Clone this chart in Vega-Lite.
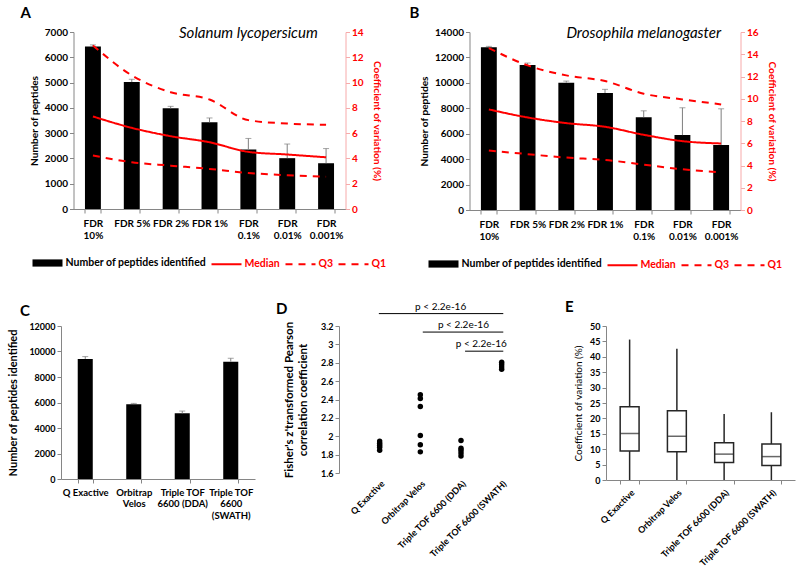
{
  "$schema": "https://vega.github.io/schema/vega-lite/v6.json",
  "padding": {"left": 7, "top": 6, "right": 5, "bottom": 5},
  "config": {
    "font": "Lato",
    "view": {"stroke": null},
    "axis": {"grid": false, "domainColor": "#868686", "tickColor": "#868686", "labelColor": "black", "titleColor": "black", "labelFontWeight": "bold", "titleFontWeight": "bold", "labelFontSize": 10, "titleFontSize": 10.2, "tickSize": 4, "labelOverlap": false},
    "title": {"fontSize": 15, "fontWeight": "bold", "anchor": "start", "color": "black", "frame": "group"},
    "legend": {"layout": {"bottom": {"anchor": "middle", "margin": 4}}}
  },
  "datasets": {
    "a_bars": [
      {"fdr": "FDR 10%", "peptides": 6430, "err": 6490},
      {"fdr": "FDR 5%", "peptides": 5020, "err": 5130},
      {"fdr": "FDR 2%", "peptides": 3980, "err": 4060},
      {"fdr": "FDR 1%", "peptides": 3430, "err": 3600},
      {"fdr": "FDR 0.1%", "peptides": 2350, "err": 2790},
      {"fdr": "FDR 0.01%", "peptides": 2010, "err": 2570},
      {"fdr": "FDR 0.001%", "peptides": 1810, "err": 2390}
    ],
    "a_cv": [
      {"fdr": "FDR 10%", "series": "Median", "cv": 7.32},
      {"fdr": "FDR 5%", "series": "Median", "cv": 6.42},
      {"fdr": "FDR 2%", "series": "Median", "cv": 5.76},
      {"fdr": "FDR 1%", "series": "Median", "cv": 5.28},
      {"fdr": "FDR 0.1%", "series": "Median", "cv": 4.52},
      {"fdr": "FDR 0.01%", "series": "Median", "cv": 4.31},
      {"fdr": "FDR 0.001%", "series": "Median", "cv": 4.09},
      {"fdr": "FDR 10%", "series": "Q3", "cv": 12.94},
      {"fdr": "FDR 5%", "series": "Q3", "cv": 10.57},
      {"fdr": "FDR 2%", "series": "Q3", "cv": 9.24},
      {"fdr": "FDR 1%", "series": "Q3", "cv": 8.66},
      {"fdr": "FDR 0.1%", "series": "Q3", "cv": 7.03},
      {"fdr": "FDR 0.01%", "series": "Q3", "cv": 6.76},
      {"fdr": "FDR 0.001%", "series": "Q3", "cv": 6.66},
      {"fdr": "FDR 10%", "series": "Q1", "cv": 4.23},
      {"fdr": "FDR 5%", "series": "Q1", "cv": 3.70},
      {"fdr": "FDR 2%", "series": "Q1", "cv": 3.43},
      {"fdr": "FDR 1%", "series": "Q1", "cv": 3.17},
      {"fdr": "FDR 0.1%", "series": "Q1", "cv": 2.85},
      {"fdr": "FDR 0.01%", "series": "Q1", "cv": 2.67},
      {"fdr": "FDR 0.001%", "series": "Q1", "cv": 2.56}
    ],
    "b_bars": [
      {"fdr": "FDR 10%", "peptides": 12800, "err": 12870},
      {"fdr": "FDR 5%", "peptides": 11400, "err": 11560},
      {"fdr": "FDR 2%", "peptides": 10010, "err": 10140},
      {"fdr": "FDR 1%", "peptides": 9200, "err": 9490},
      {"fdr": "FDR 0.1%", "peptides": 7300, "err": 7800},
      {"fdr": "FDR 0.01%", "peptides": 5890, "err": 8040},
      {"fdr": "FDR 0.001%", "peptides": 5120, "err": 7960}
    ],
    "b_cv": [
      {"fdr": "FDR 10%", "series": "Median", "cv": 9.04},
      {"fdr": "FDR 5%", "series": "Median", "cv": 8.32},
      {"fdr": "FDR 2%", "series": "Median", "cv": 7.81},
      {"fdr": "FDR 1%", "series": "Median", "cv": 7.48},
      {"fdr": "FDR 0.1%", "series": "Median", "cv": 6.76},
      {"fdr": "FDR 0.01%", "series": "Median", "cv": 6.19},
      {"fdr": "FDR 0.001%", "series": "Median", "cv": 5.98},
      {"fdr": "FDR 10%", "series": "Q3", "cv": 14.56},
      {"fdr": "FDR 5%", "series": "Q3", "cv": 13.0},
      {"fdr": "FDR 2%", "series": "Q3", "cv": 12.1},
      {"fdr": "FDR 1%", "series": "Q3", "cv": 11.59},
      {"fdr": "FDR 0.1%", "series": "Q3", "cv": 10.45},
      {"fdr": "FDR 0.01%", "series": "Q3", "cv": 9.94},
      {"fdr": "FDR 0.001%", "series": "Q3", "cv": 9.49},
      {"fdr": "FDR 10%", "series": "Q1", "cv": 5.35},
      {"fdr": "FDR 5%", "series": "Q1", "cv": 5.02},
      {"fdr": "FDR 2%", "series": "Q1", "cv": 4.71},
      {"fdr": "FDR 1%", "series": "Q1", "cv": 4.50},
      {"fdr": "FDR 0.1%", "series": "Q1", "cv": 4.08},
      {"fdr": "FDR 0.01%", "series": "Q1", "cv": 3.66},
      {"fdr": "FDR 0.001%", "series": "Q1", "cv": 3.39}
    ],
    "c_bars": [
      {"inst": "Q Exactive", "peptides": 9420, "err": 9600},
      {"inst": "Orbitrap Velos", "peptides": 5870, "err": 5930},
      {"inst": "Triple TOF 6600 (DDA)", "peptides": 5150, "err": 5330},
      {"inst": "Triple TOF 6600 (SWATH)", "peptides": 9200, "err": 9470}
    ],
    "d_pts": [
      {"pos": 1, "inst": "Q Exactive", "z": 1.947},
      {"pos": 1, "inst": "Q Exactive", "z": 1.925},
      {"pos": 1, "inst": "Q Exactive", "z": 1.903},
      {"pos": 1, "inst": "Q Exactive", "z": 1.881},
      {"pos": 1, "inst": "Q Exactive", "z": 1.848},
      {"pos": 2, "inst": "Orbitrap Velos", "z": 2.451},
      {"pos": 2, "inst": "Orbitrap Velos", "z": 2.411},
      {"pos": 2, "inst": "Orbitrap Velos", "z": 2.323},
      {"pos": 2, "inst": "Orbitrap Velos", "z": 2.009},
      {"pos": 2, "inst": "Orbitrap Velos", "z": 1.907},
      {"pos": 2, "inst": "Orbitrap Velos", "z": 1.830},
      {"pos": 3, "inst": "Triple TOF 6600 (DDA)", "z": 1.954},
      {"pos": 3, "inst": "Triple TOF 6600 (DDA)", "z": 1.870},
      {"pos": 3, "inst": "Triple TOF 6600 (DDA)", "z": 1.848},
      {"pos": 3, "inst": "Triple TOF 6600 (DDA)", "z": 1.819},
      {"pos": 3, "inst": "Triple TOF 6600 (DDA)", "z": 1.786},
      {"pos": 4, "inst": "Triple TOF 6600 (SWATH)", "z": 2.805},
      {"pos": 4, "inst": "Triple TOF 6600 (SWATH)", "z": 2.780},
      {"pos": 4, "inst": "Triple TOF 6600 (SWATH)", "z": 2.754},
      {"pos": 4, "inst": "Triple TOF 6600 (SWATH)", "z": 2.728}
    ],
    "d_brackets": [
      {"from": 0.98, "to": 4.04, "mid": 2.5, "level": 3.335, "label": "p < 2.2e-16"},
      {"from": 2.06, "to": 4.04, "mid": 3.06, "level": 3.134, "label": "p < 2.2e-16"},
      {"from": 3.1, "to": 4.04, "mid": 3.5, "level": 2.926, "label": "p < 2.2e-16"}
    ],
    "e_box": [
      {"inst": "Q Exactive", "min": 0, "q1": 9.4, "median": 15.1, "q3": 23.8, "max": 45.6},
      {"inst": "Orbitrap Velos", "min": 0, "q1": 9.2, "median": 14.2, "q3": 22.5, "max": 42.6},
      {"inst": "Triple TOF 6600 (DDA)", "min": 0, "q1": 5.7, "median": 8.4, "q3": 12.1, "max": 21.4},
      {"inst": "Triple TOF 6600 (SWATH)", "min": 0, "q1": 4.7, "median": 7.6, "q3": 11.7, "max": 22.0}
    ]
  },
  "spacing": 29,
  "center": true,
  "resolve": {"scale": {"color": "independent", "strokeDash": "independent"}, "legend": {"color": "independent", "strokeDash": "independent"}},
  "vconcat": [
    {
      "resolve": {"scale": {"color": "independent", "strokeDash": "independent"}, "legend": {"color": "independent", "strokeDash": "independent"}},
      "hconcat": [
        {
          "width": 272, "height": 177,
          "title": {"text": "A", "dx": -53, "offset": 5},
          "layer": [
            {
              "data": {"name": "a_bars"},
              "layer": [
                {
                  "mark": {"type": "bar"},
                  "encoding": {
                    "x": {"field": "fdr", "type": "nominal", "sort": ["FDR 10%","FDR 5%","FDR 2%","FDR 1%","FDR 0.1%","FDR 0.01%","FDR 0.001%"], "scale": {"paddingInner": 0.59, "paddingOuter": 0.295},
                      "axis": {"title": null, "labelAngle": 0, "tickBand": "extent", "labelPadding": 5, "labelOverlap": false, "labelExpr": "length(datum.label) > 6 ? split(datum.label, ' ') : datum.label"}},
                    "y": {"field": "peptides", "type": "quantitative", "scale": {"domain": [0, 7000]},
                      "axis": {"title": "Number of peptides", "values": [0,1000,2000,3000,4000,5000,6000,7000], "tickCount": 50, "format": "d", "labelOverlap": false, "titlePadding": 5}},
                    "color": {"datum": "Number of peptides identified", "type": "nominal", "scale": {"range": ["black"]},
                      "legend": {"orient": "bottom", "title": null, "symbolType": "M-1,-0.24H1V0.24H-1Z", "symbolSize": 900, "symbolStrokeWidth": 0, "labelFontSize": 10.5, "labelFontWeight": "bold", "labelLimit": 300, "labelOffset": 3, "offset": 8}}
                  }
                },
                {
                  "mark": {"type": "rule", "color": "#7f7f7f"},
                  "encoding": {
                    "x": {"field": "fdr", "type": "nominal", "sort": ["FDR 10%","FDR 5%","FDR 2%","FDR 1%","FDR 0.1%","FDR 0.01%","FDR 0.001%"]},
                    "y": {"field": "peptides", "type": "quantitative"},
                    "y2": {"field": "err"}
                  }
                },
                {
                  "mark": {"type": "tick", "color": "#7f7f7f", "size": 6, "thickness": 1, "orient": "horizontal"},
                  "encoding": {
                    "x": {"field": "fdr", "type": "nominal", "sort": ["FDR 10%","FDR 5%","FDR 2%","FDR 1%","FDR 0.1%","FDR 0.01%","FDR 0.001%"]},
                    "y": {"field": "err", "type": "quantitative"}
                  }
                },
                {
                  "data": {"values": [{}]},
                  "mark": {"type": "text", "fontStyle": "italic", "fontSize": 15, "align": "center", "baseline": "middle"},
                  "encoding": {
                    "x": {"datum": "FDR 0.1%", "type": "nominal"},
                    "y": {"datum": 6950, "type": "quantitative"},
                    "text": {"value": "Solanum lycopersicum"}
                  }
                }
              ]
            },
            {
              "data": {"name": "a_cv"},
              "mark": {"type": "line", "interpolate": "monotone", "strokeWidth": 2, "color": "#ff0000"},
              "encoding": {
                "x": {"field": "fdr", "type": "nominal", "sort": ["FDR 10%","FDR 5%","FDR 2%","FDR 1%","FDR 0.1%","FDR 0.01%","FDR 0.001%"]},
                "y": {"field": "cv", "type": "quantitative", "scale": {"domain": [0, 14]},
                  "axis": {"orient": "right", "title": "Coefficient of variation (%)", "values": [0,2,4,6,8,10,12,14], "tickCount": 50, "format": "d", "labelOverlap": false, "labelColor": "#ff0000", "titleColor": "#ff0000", "domainColor": "#f7aaaa", "tickColor": "#f7aaaa", "titlePadding": 8}},
                "strokeDash": {"field": "series", "type": "nominal", "scale": {"domain": ["Median", "Q3", "Q1"], "range": [[1, 0], [7, 6], [7, 6]]},
                  "legend": {"orient": "bottom", "direction": "horizontal", "title": null, "symbolType": "stroke", "symbolSize": 900, "symbolStrokeColor": "#ff0000", "symbolStrokeWidth": 2, "labelColor": "#ff0000", "labelFontSize": 10.5, "labelFontWeight": "bold", "labelOffset": 2, "columnPadding": 1, "offset": 8}}
              }
            }
          ],
          "resolve": {"scale": {"y": "independent"}}
        },
        {
          "width": 271, "height": 178,
          "title": {"text": "B", "dx": -60, "offset": 5},
          "layer": [
            {
              "data": {"name": "b_bars"},
              "layer": [
                {
                  "mark": {"type": "bar"},
                  "encoding": {
                    "x": {"field": "fdr", "type": "nominal", "sort": ["FDR 10%","FDR 5%","FDR 2%","FDR 1%","FDR 0.1%","FDR 0.01%","FDR 0.001%"], "scale": {"paddingInner": 0.59, "paddingOuter": 0.295},
                      "axis": {"title": null, "labelAngle": 0, "tickBand": "extent", "labelPadding": 5, "labelOverlap": false, "labelExpr": "length(datum.label) > 6 ? split(datum.label, ' ') : datum.label"}},
                    "y": {"field": "peptides", "type": "quantitative", "scale": {"domain": [0, 14000]},
                      "axis": {"title": "Number of peptides", "values": [0,2000,4000,6000,8000,10000,12000,14000], "tickCount": 50, "format": "d", "labelOverlap": false, "titlePadding": 5}},
                    "color": {"datum": "Number of peptides identified", "type": "nominal", "scale": {"range": ["black"]},
                      "legend": {"orient": "bottom", "title": null, "symbolType": "M-1,-0.24H1V0.24H-1Z", "symbolSize": 900, "symbolStrokeWidth": 0, "labelFontSize": 10.5, "labelFontWeight": "bold", "labelLimit": 300, "labelOffset": 3, "offset": 8}}
                  }
                },
                {
                  "mark": {"type": "rule", "color": "#7f7f7f"},
                  "encoding": {
                    "x": {"field": "fdr", "type": "nominal", "sort": ["FDR 10%","FDR 5%","FDR 2%","FDR 1%","FDR 0.1%","FDR 0.01%","FDR 0.001%"]},
                    "y": {"field": "peptides", "type": "quantitative"},
                    "y2": {"field": "err"}
                  }
                },
                {
                  "mark": {"type": "tick", "color": "#7f7f7f", "size": 6, "thickness": 1, "orient": "horizontal"},
                  "encoding": {
                    "x": {"field": "fdr", "type": "nominal", "sort": ["FDR 10%","FDR 5%","FDR 2%","FDR 1%","FDR 0.1%","FDR 0.01%","FDR 0.001%"]},
                    "y": {"field": "err", "type": "quantitative"}
                  }
                },
                {
                  "data": {"values": [{}]},
                  "mark": {"type": "text", "fontStyle": "italic", "fontSize": 15, "align": "center", "baseline": "middle"},
                  "encoding": {
                    "x": {"datum": "FDR 0.1%", "type": "nominal"},
                    "y": {"datum": 13900, "type": "quantitative"},
                    "text": {"value": "Drosophila melanogaster"}
                  }
                }
              ]
            },
            {
              "data": {"name": "b_cv"},
              "mark": {"type": "line", "interpolate": "monotone", "strokeWidth": 2, "color": "#ff0000"},
              "encoding": {
                "x": {"field": "fdr", "type": "nominal", "sort": ["FDR 10%","FDR 5%","FDR 2%","FDR 1%","FDR 0.1%","FDR 0.01%","FDR 0.001%"]},
                "y": {"field": "cv", "type": "quantitative", "scale": {"domain": [0, 16]},
                  "axis": {"orient": "right", "title": "Coefficient of variation (%)", "values": [0,2,4,6,8,10,12,14,16], "tickCount": 50, "format": "d", "labelOverlap": false, "labelColor": "#ff0000", "titleColor": "#ff0000", "domainColor": "#f7aaaa", "tickColor": "#f7aaaa", "titlePadding": 8}},
                "strokeDash": {"field": "series", "type": "nominal", "scale": {"domain": ["Median", "Q3", "Q1"], "range": [[1, 0], [7, 6], [7, 6]]},
                  "legend": {"orient": "bottom", "direction": "horizontal", "title": null, "symbolType": "stroke", "symbolSize": 900, "symbolStrokeColor": "#ff0000", "symbolStrokeWidth": 2, "labelColor": "#ff0000", "labelFontSize": 10.5, "labelFontWeight": "bold", "labelOffset": 2, "columnPadding": 1, "offset": 8}}
              }
            }
          ],
          "resolve": {"scale": {"y": "independent"}}
        }
      ],
      "spacing": 124,
      "bounds": "flush"
    },
    {
      "hconcat": [
        {
          "width": 194, "height": 153,
          "title": {"text": "C", "dx": -41, "offset": 3},
          "data": {"name": "c_bars"},
          "layer": [
            {
              "mark": {"type": "bar", "color": "black"},
              "encoding": {
                "x": {"field": "inst", "type": "nominal", "sort": ["Q Exactive", "Orbitrap Velos", "Triple TOF 6600 (DDA)", "Triple TOF 6600 (SWATH)"], "scale": {"paddingInner": 0.69, "paddingOuter": 0.345},
                  "axis": {"title": null, "labelAngle": 0, "tickBand": "extent", "labelPadding": 4, "labelFontSize": 9.5, "labelOverlap": false,
                    "labelExpr": "datum.label == 'Orbitrap Velos' ? ['Orbitrap', 'Velos'] : datum.label == 'Triple TOF 6600 (DDA)' ? ['Triple TOF', '6600 (DDA)'] : datum.label == 'Triple TOF 6600 (SWATH)' ? ['Triple TOF', '6600', '(SWATH)'] : datum.label"}},
                "y": {"field": "peptides", "type": "quantitative", "scale": {"domain": [0, 12000]},
                  "axis": {"title": "Number of peptides identified", "values": [0,2000,4000,6000,8000,10000,12000], "tickCount": 50, "format": "d", "labelOverlap": false, "titleFontSize": 11, "labelFontSize": 9, "titlePadding": 10}}
              }
            },
            {
              "mark": {"type": "rule", "color": "#7f7f7f"},
              "encoding": {
                "x": {"field": "inst", "type": "nominal", "sort": ["Q Exactive", "Orbitrap Velos", "Triple TOF 6600 (DDA)", "Triple TOF 6600 (SWATH)"]},
                "y": {"field": "peptides", "type": "quantitative"},
                "y2": {"field": "err"}
              }
            },
            {
              "mark": {"type": "tick", "color": "#7f7f7f", "size": 6, "thickness": 1, "orient": "horizontal"},
              "encoding": {
                "x": {"field": "inst", "type": "nominal", "sort": ["Q Exactive", "Orbitrap Velos", "Triple TOF 6600 (DDA)", "Triple TOF 6600 (SWATH)"]},
                "y": {"field": "err", "type": "quantitative"}
              }
            }
          ]
        },
        {
          "width": 183, "height": 147,
          "title": {"text": "D", "dx": -63, "offset": -15},
          "layer": [
            {
              "data": {"name": "d_pts"},
              "mark": {"type": "point", "filled": true, "color": "black", "size": 30, "opacity": 1},
              "encoding": {
                "x": {"field": "pos", "type": "quantitative", "scale": {"domain": [0.467, 4.077]},
                  "axis": {"title": null, "values": [1, 2, 3, 4], "tickCount": 50, "domain": false, "ticks": false, "labelAngle": -45, "labelFontSize": 9, "labelPadding": 6, "labelOverlap": false,
                    "labelExpr": "['', 'Q Exactive', 'Orbitrap Velos', 'Triple TOF 6600 (DDA)', 'Triple TOF 6600 (SWATH)'][datum.value]"}},
                "y": {"field": "z", "type": "quantitative", "scale": {"domain": [1.6, 3.2]},
                  "axis": {"title": ["Fisher's z'transformed Pearson", "correlation coefficient"], "values": [1.6, 1.8, 2, 2.2, 2.4, 2.6, 2.8, 3, 3.2], "tickCount": 50, "format": "~g", "labelOverlap": false, "labelFontSize": 9, "titleFontSize": 11.5, "titlePadding": 12}}
              }
            },
            {
              "data": {"name": "d_brackets"},
              "mark": {"type": "rule", "color": "black", "strokeWidth": 1},
              "encoding": {
                "x": {"field": "from", "type": "quantitative"},
                "x2": {"field": "to"},
                "y": {"field": "level", "type": "quantitative"}
              }
            },
            {
              "data": {"name": "d_brackets"},
              "mark": {"type": "text", "fontSize": 10, "baseline": "bottom", "align": "center", "dy": -2},
              "encoding": {
                "x": {"field": "mid", "type": "quantitative"},
                "y": {"field": "level", "type": "quantitative"},
                "text": {"field": "label"}
              }
            }
          ]
        },
        {
          "width": 189, "height": 154,
          "title": {"text": "E", "dx": -41, "offset": 7},
          "data": {"name": "e_box"},
          "layer": [
            {
              "mark": {"type": "rule", "color": "#262626", "strokeWidth": 1.5},
              "encoding": {
                "x": {"field": "inst", "type": "nominal", "sort": ["Q Exactive", "Orbitrap Velos", "Triple TOF 6600 (DDA)", "Triple TOF 6600 (SWATH)"], "scale": {"paddingInner": 0.6, "paddingOuter": 0.3},
                  "axis": {"title": null, "labelAngle": -45, "tickBand": "extent", "labelPadding": 4, "labelFontSize": 9, "labelOverlap": false}},
                "y": {"field": "min", "type": "quantitative", "scale": {"domain": [0, 50]},
                  "axis": {"title": "Coefficient of variation (%)", "values": [0,5,10,15,20,25,30,35,40,45,50], "tickCount": 50, "labelOverlap": false, "labelFontSize": 9, "titleFontSize": 10, "titleFontWeight": "normal", "titleColor": "black", "titlePadding": 6}},
                "y2": {"field": "max"}
              }
            },
            {
              "mark": {"type": "bar", "fill": "white", "stroke": "#262626", "strokeWidth": 1.5},
              "encoding": {
                "x": {"field": "inst", "type": "nominal", "sort": ["Q Exactive", "Orbitrap Velos", "Triple TOF 6600 (DDA)", "Triple TOF 6600 (SWATH)"]},
                "y": {"field": "q1", "type": "quantitative"},
                "y2": {"field": "q3"}
              }
            },
            {
              "mark": {"type": "tick", "color": "#262626", "size": 19, "thickness": 1.5, "orient": "horizontal"},
              "encoding": {
                "x": {"field": "inst", "type": "nominal", "sort": ["Q Exactive", "Orbitrap Velos", "Triple TOF 6600 (DDA)", "Triple TOF 6600 (SWATH)"]},
                "y": {"field": "median", "type": "quantitative"}
              }
            }
          ]
        }
      ],
      "spacing": 84,
      "bounds": "flush"
    }
  ]
}
